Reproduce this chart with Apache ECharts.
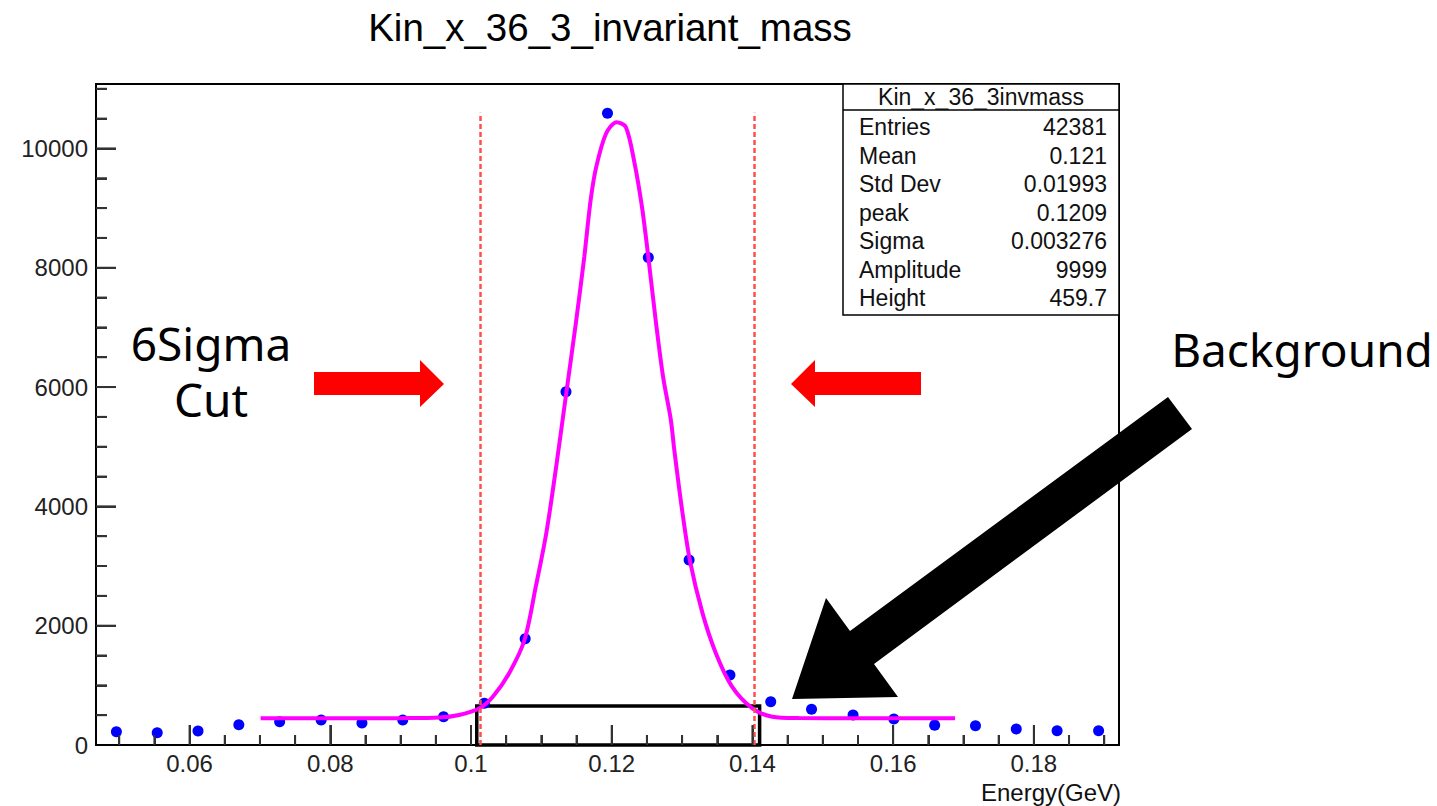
<!DOCTYPE html>
<html lang="en">
<head>
    <meta charset="UTF-8">
    <title>Kin_x_36_3_invariant_mass</title>
    <script src="https://cdn.jsdelivr.net/npm/echarts@6/dist/echarts.min.js"></script>
    <style>
        html, body { margin: 0; padding: 0; background: #fff; }
        #chart1 { width: 1437px; height: 806px; }
    </style>
</head>
<body>
<div id="chart1"></div>
<script type="text/javascript">
    // histogram bin centres (GeV) and counts
    var binCenters = [0.0496, 0.0554, 0.0612, 0.0670, 0.0728, 0.0787, 0.0845, 0.0903, 0.0961, 0.1019,
        0.1077, 0.1135, 0.1194, 0.1252, 0.1310, 0.1368, 0.1426, 0.1484, 0.1543, 0.1601,
        0.1659, 0.1717, 0.1775, 0.1833, 0.1892];
    var counts = [223, 206, 235, 340, 390, 420, 370, 420, 474, 700,
        1780, 5920, 10590, 8170, 3100, 1173, 726, 598, 503, 436,
        333, 323, 268, 240, 240];

    // fit curve
    var fitX = [0.0701, 0.0800, 0.0900, 0.0955, 0.0983, 0.1012, 0.1031, 0.1054, 0.1076, 0.1092,
        0.1107, 0.1121, 0.1134, 0.1149, 0.1161, 0.1170, 0.1178, 0.1192, 0.1207, 0.1220,
        0.1232, 0.1243, 0.1252, 0.1263, 0.1273, 0.1284, 0.1289, 0.1300, 0.1311, 0.1329,
        0.1348, 0.1371, 0.1400, 0.1428, 0.1466, 0.1550, 0.1688];
    var fitY = [447, 447, 450, 460, 503, 615, 810, 1200, 1760, 2650,
        3550, 4660, 5780, 7070, 8180, 9130, 9690, 10250, 10440, 10360,
        9780, 9020, 8180, 7070, 6170, 5450, 4940, 3940, 3100, 2210,
        1540, 980, 615, 475, 452, 448, 447];

    // 6 sigma cut lines and background box
    var cutLines = [0.10132, 0.14021];
    var cutTop = 10600;
    var bgBox = [0.10082, 0.14102, 654];

    // tick positions (ROOT style ticks, drawn inside the frame)
    var xMajorTicks = [0.06, 0.08, 0.10, 0.12, 0.14, 0.16, 0.18];
    var xMinorTicks = [0.05, 0.055, 0.065, 0.07, 0.075, 0.085, 0.09, 0.095, 0.105, 0.11, 0.115,
        0.125, 0.13, 0.135, 0.145, 0.15, 0.155, 0.165, 0.17, 0.175, 0.185, 0.19];
    var yMajorTicks = [2000, 4000, 6000, 8000, 10000];
    var yMinorTicks = [500, 1000, 1500, 2500, 3000, 3500, 4500, 5000, 5500, 6500, 7000, 7500,
        8500, 9000, 9500, 10500, 11000];

    // stats box
    var statTitle = 'Kin_x_36_3invmass';
    var statNames = ['Entries', 'Mean', 'Std Dev', 'peak', 'Sigma', 'Amplitude', 'Height'];
    var statValues = ['42381', '0.121', '0.01993', '0.1209', '0.003276', '9999', '459.7'];

    var xRange = [0.0467, 0.1921];
    var yRange = [0, 11080];

    var font = '"Liberation Sans", Arial, sans-serif';
    var noteFont = '"Noto Sans", sans-serif';

    var points = binCenters.map(function (x, i) { return [x, counts[i]]; });
    var fit = fitX.map(function (x, i) { return [x, fitY[i]]; });

    var myChart1 = echarts.init(document.getElementById('chart1'), null, {renderer: 'svg'});

    var graphics = [
        // plot frame (top and right edges)
        {type: 'rect', z: 1, shape: {x: 96, y: 84, width: 1023, height: 661},
            style: {fill: 'none', stroke: '#000', lineWidth: 2}},
        {type: 'text', x: 610, y: 27, z: 100,
            style: {text: 'Kin_x_36_3_invariant_mass', font: '38.5px ' + font, fill: '#000', align: 'center', verticalAlign: 'middle'}},
        {type: 'text', x: 1121, y: 792, z: 100,
            style: {text: 'Energy(GeV)', font: '24px ' + font, fill: '#111', align: 'right', verticalAlign: 'middle'}},
        // stats box
        {type: 'rect', z: 90, shape: {x: 843, y: 84, width: 276, height: 231},
            style: {fill: '#fff', stroke: '#000', lineWidth: 1.5}},
        {type: 'line', z: 91, shape: {x1: 843, y1: 110, x2: 1119, y2: 110},
            style: {stroke: '#000', lineWidth: 1.5}},
        {type: 'text', x: 981, y: 97, z: 92,
            style: {text: statTitle, font: '23px ' + font, fill: '#111', align: 'center', verticalAlign: 'middle'}},
        // annotations
        {type: 'polygon', z: 100,
            shape: {points: [[314, 372], [420, 372], [420, 360], [444, 384], [420, 407], [420, 395], [314, 395]]},
            style: {fill: '#ff0000'}},
        {type: 'polygon', z: 100,
            shape: {points: [[921, 372], [815, 372], [815, 360], [791, 384], [815, 407], [815, 395], [921, 395]]},
            style: {fill: '#ff0000'}},
        {type: 'polygon', z: 100,
            shape: {points: [[1168, 397], [1192, 429], [874, 664], [898, 697], [792, 699], [826, 598], [850, 631]]},
            style: {fill: '#000'}},
        {type: 'text', x: 211, y: 343, z: 100,
            style: {text: '6Sigma', font: '46px ' + noteFont, fill: '#000', align: 'center', verticalAlign: 'middle'}},
        {type: 'text', x: 211, y: 399, z: 100,
            style: {text: 'Cut', font: '46px ' + noteFont, fill: '#000', align: 'center', verticalAlign: 'middle'}},
        {type: 'text', x: 1302, y: 349, z: 100,
            style: {text: 'Background', font: '46px ' + noteFont, fill: '#000', align: 'center', verticalAlign: 'middle'}}
    ];
    statNames.forEach(function (name, i) {
        var y = 127 + i * 28.5;
        graphics.push({type: 'text', x: 859, y: y, z: 92,
            style: {text: name, font: '23px ' + font, fill: '#111', align: 'left', verticalAlign: 'middle'}});
        graphics.push({type: 'text', x: 1107, y: y, z: 92,
            style: {text: statValues[i], font: '23px ' + font, fill: '#111', align: 'right', verticalAlign: 'middle'}});
    });

    var tickStyle = {color: '#333', width: 2};

    myChart1.setOption({
        animation: false,
        backgroundColor: '#fff',
        grid: {left: 96, right: 318, top: 84, bottom: 61},
        xAxis: {
            type: 'value',
            min: xRange[0],
            max: xRange[1],
            splitNumber: 7,
            axisLine: {show: true, lineStyle: {color: '#000', width: 2}},
            axisTick: {show: true, inside: true, length: 20, lineStyle: tickStyle},
            minorTick: {show: true, splitNumber: 4, length: 10, lineStyle: tickStyle},
            splitLine: {show: false},
            axisLabel: {showMinLabel: false, showMaxLabel: false, margin: 6, color: '#222', fontSize: 24, fontFamily: font}
        },
        yAxis: {
            type: 'value',
            min: yRange[0],
            max: yRange[1],
            splitNumber: 5,
            axisLine: {show: true, lineStyle: {color: '#000', width: 2}},
            axisTick: {show: true, inside: true, length: 20, lineStyle: tickStyle},
            minorTick: {show: true, splitNumber: 4, length: 11, lineStyle: tickStyle},
            splitLine: {show: false},
            axisLabel: {
                showMaxLabel: false, margin: 8, color: '#222', fontSize: 24, fontFamily: font,
                formatter: function (v) { return String(v); }
            }
        },
        graphic: graphics,
        series: [
            {
                name: 'fit',
                type: 'line',
                data: fit,
                smooth: 0.3,
                symbol: 'none',
                lineStyle: {color: '#ff00ff', width: 4},
                markLine: {
                    silent: true,
                    symbol: ['none', 'none'],
                    label: {show: false},
                    lineStyle: {color: '#ff5050', width: 2.5, type: [5, 3]},
                    data: cutLines.map(function (x) { return [{coord: [x, 0]}, {coord: [x, cutTop]}]; })
                },
                markArea: {
                    silent: true,
                    itemStyle: {color: 'rgba(0,0,0,0)', borderColor: '#000', borderWidth: 3.5},
                    data: [[{coord: [bgBox[0], 0]}, {coord: [bgBox[1], bgBox[2]]}]]
                }
            },
            {
                name: 'data',
                type: 'scatter',
                data: points,
                symbol: 'circle',
                symbolSize: 11,
                itemStyle: {color: '#0000ff', opacity: 1}
            }
        ]
    });

    // tick marks placed through the chart's own scales
    var x0 = myChart1.convertToPixel({xAxisIndex: 0}, xRange[0]);
    var y0 = myChart1.convertToPixel({yAxisIndex: 0}, 0);
    function addXTick(v, len) {
        var px = myChart1.convertToPixel({xAxisIndex: 0}, v);
        graphics.push({type: 'line', z: 50, silent: true, shape: {x1: px, y1: y0, x2: px, y2: y0 - len},
            style: {stroke: '#333', lineWidth: 2}});
    }
    function addYTick(v, len) {
        var py = myChart1.convertToPixel({yAxisIndex: 0}, v);
        graphics.push({type: 'line', z: 50, silent: true, shape: {x1: x0, y1: py, x2: x0 + len, y2: py},
            style: {stroke: '#333', lineWidth: 2}});
    }
    xMajorTicks.forEach(function (v) { addXTick(v, 20); });
    xMinorTicks.forEach(function (v) { addXTick(v, 10); });
    yMajorTicks.forEach(function (v) { addYTick(v, 20); });
    yMinorTicks.forEach(function (v) { addYTick(v, 11); });
    myChart1.setOption({graphic: graphics});
</script>
</body>
</html>
